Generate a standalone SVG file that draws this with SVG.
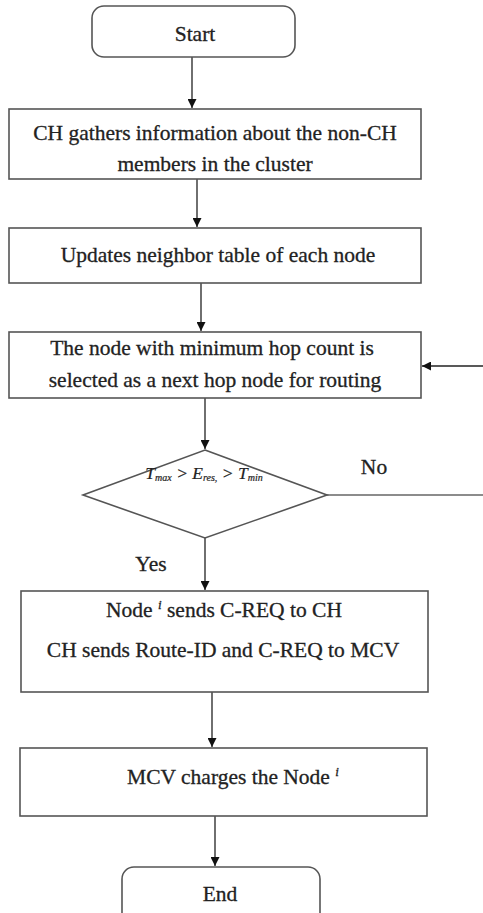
<svg xmlns="http://www.w3.org/2000/svg" width="483" height="913" viewBox="0 0 483 913">
<style>
.box{fill:#fff;stroke:#555;stroke-width:1.6}
.t{font-family:"Liberation Serif","Times New Roman",serif;font-size:21.5px;fill:#222;stroke:#222;stroke-width:0.3;text-anchor:middle}
.l{fill:none;stroke:#222;stroke-width:1.3}
.sub{font-size:10px}
.sup{font-size:13px;font-style:italic}
</style>
<defs>
<marker id="ah" viewBox="0 0 10 10" refX="10" refY="5" markerWidth="9" markerHeight="9" markerUnits="userSpaceOnUse" orient="auto">
<path d="M0,0 L10,5 L0,10 z" fill="#111"/>
</marker>
</defs>
<rect width="483" height="913" fill="#fff"/>
<g id="connectors">
<line class="l" x1="192" y1="57" x2="192" y2="108" marker-end="url(#ah)"/>
<line class="l" x1="197" y1="179" x2="197" y2="227" marker-end="url(#ah)"/>
<line class="l" x1="201" y1="283" x2="201" y2="331" marker-end="url(#ah)"/>
<line class="l" x1="483" y1="366" x2="422" y2="366" marker-end="url(#ah)"/>
<line class="l" x1="205" y1="398" x2="205" y2="449" marker-end="url(#ah)"/>
<line class="l" x1="327" y1="495" x2="483" y2="495" style="stroke:#666"/>
<line class="l" x1="205" y1="538" x2="205" y2="590" marker-end="url(#ah)"/>
<line class="l" x1="212" y1="692" x2="212" y2="747" marker-end="url(#ah)"/>
<line class="l" x1="215" y1="816" x2="215" y2="866" marker-end="url(#ah)"/>
<text class="t" x="374" y="474">No</text>
<text class="t" x="151" y="571">Yes</text>
</g>
<g id="start">
<rect class="box" x="92" y="6" width="203" height="51" rx="12"/>
<text class="t" x="195" y="41">Start</text>
</g>
<g id="gather">
<rect class="box" x="9" y="109" width="412" height="70"/>
<text class="t" x="215" y="140">CH gathers information about the non-CH</text>
<text class="t" x="215" y="171">members in the cluster</text>
</g>
<g id="update">
<rect class="box" x="9" y="228" width="412" height="55"/>
<text class="t" x="218" y="262">Updates neighbor table of each node</text>
</g>
<g id="select">
<rect class="box" x="9" y="332" width="412" height="66"/>
<text class="t" x="212" y="355">The node with minimum hop count is</text>
<text class="t" x="215" y="387">selected as a next hop node for routing</text>
</g>
<g id="decision">
<polygon class="box" points="205,450 327,495 205,538 83,495"/>
<text class="t" x="204" y="479" style="font-size:17.5px;font-style:italic;stroke-width:0.2">T<tspan class="sub" dy="2">max</tspan><tspan dy="-2"> &gt; E</tspan><tspan class="sub" dy="2">res,</tspan><tspan dy="-2"> &gt; T</tspan><tspan class="sub" dy="2">min</tspan></text>
</g>
<g id="request">
<rect class="box" x="21" y="591" width="407" height="101"/>
<text class="t" x="224" y="617">Node <tspan class="sup" dy="-8">i</tspan><tspan dy="8"> sends C-REQ to CH</tspan></text>
<text class="t" x="223" y="657">CH sends Route-ID and C-REQ to MCV</text>
</g>
<g id="charge">
<rect class="box" x="20" y="748" width="407" height="68"/>
<text class="t" x="233" y="784">MCV charges the Node <tspan class="sup" dy="-8">i</tspan></text>
</g>
<g id="end">
<rect class="box" x="122" y="867" width="198" height="60" rx="12"/>
<text class="t" x="220" y="901">End</text>
</g>
</svg>
